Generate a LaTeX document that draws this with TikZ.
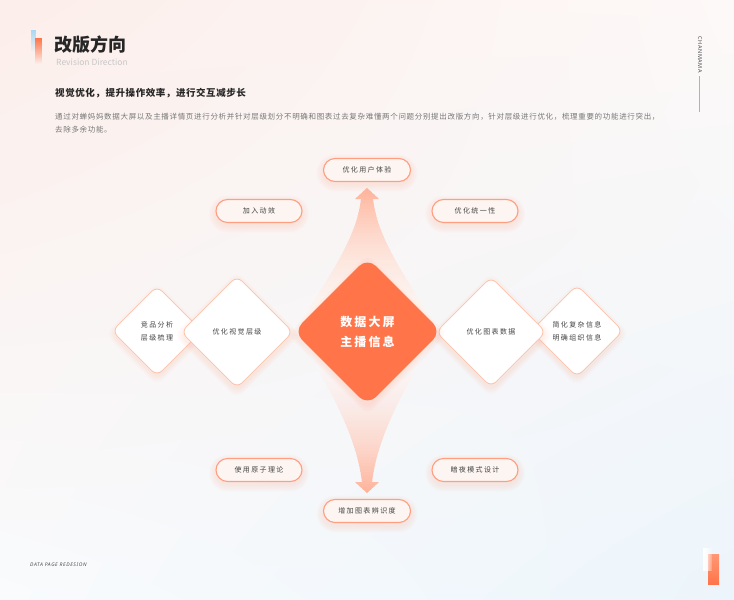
\documentclass[tikz,border=0pt]{standalone}
\usepackage{fontspec}
\setmainfont{Noto Sans CJK SC}
\newfontfamily\cjksp[LetterSpace=20]{Noto Sans CJK SC}
\newfontfamily\cjkpara[LetterSpace=9]{Noto Sans CJK SC}
\newfontfamily\cjksub[LetterSpace=6]{Noto Sans CJK SC}
\newfontfamily\cjkbig[LetterSpace=18]{Noto Sans CJK SC}
\newfontfamily\latsans{Noto Sans}
\newfontfamily\latsp[LetterSpace=12]{Noto Sans}
\usetikzlibrary{shapes.geometric,fadings,shadings,calc}

\definecolor{mainor}{HTML}{FF7549}
\definecolor{pillbd}{HTML}{FF9E80}
\definecolor{pillfill}{HTML}{FCF5F2}
\definecolor{dmbd}{HTML}{FCC2AC}
\definecolor{txtc}{HTML}{444444}
\definecolor{parac}{HTML}{777777}
\definecolor{arrowtop}{HTML}{FFB39A}
\definecolor{bgu}{HTML}{FCF5F2}
\definecolor{bgd}{HTML}{F9F9FB}
\definecolor{pglowc}{HTML}{FFB89E}
\definecolor{dglowc}{HTML}{FFB49A}
\definecolor{cglowc}{HTML}{FF8A60}
\definecolor{bluebar}{HTML}{A9D8F5}
\definecolor{bgTL}{HTML}{FCEEEA}
\definecolor{bgTR}{HTML}{FDF9F8}
\definecolor{bgBL}{HTML}{F9FBFD}
\definecolor{bgBR}{HTML}{ECF5FB}

\tikzfading[name=fadedown, top color=transparent!0, bottom color=transparent!100]
\tikzfading[name=faderight, left color=transparent!0, right color=transparent!85]

\tikzset{
  pillst/.style={draw=pillbd, line width=1.1pt, fill=pillfill, rounded corners=11.5pt,
    minimum height=23pt, inner sep=0pt, font=\cjksp\fontsize{7}{9}\selectfont, text=txtc},
  dmst/.style={diamond, aspect=1, draw=dmbd, line width=0.8pt, fill=white, inner sep=0pt,
    rounded corners=7pt, align=center, font=\cjksp\fontsize{7}{13}\selectfont, text=txtc},
  cdmst/.style={diamond, aspect=1, fill=mainor, inner sep=0pt, rounded corners=12pt,
    align=center, font=\cjkbig\bfseries\fontsize{12}{20}\selectfont, text=white},
}

\newcommand\dglow[5]{%
  \foreach \k in {1,...,8}{
    \fill[#4, opacity=#5, rounded corners=9pt] (#1-#3-\k,#2+3) -- (#1,#2-#3-\k+3) -- (#1+#3+\k,#2+3) -- (#1,#2+#3+\k+3) -- cycle;
  }}
\newcommand\pglow[3]{%
  \foreach \k in {1,...,7}{
    \fill[pglowc, opacity=0.035, rounded corners={11.5pt+\k pt}] (#1-#3/2-\k,#2-11.5-\k+3) rectangle (#1+#3/2+\k,#2+11.5+\k+3);
  }}

\begin{document}
\begin{tikzpicture}[x={(1pt,0pt)}, y={(0pt,-1pt)}]
\useasboundingbox (0,0) rectangle (734,600);
\shade[upper left=bgTL, upper right=bgTR, lower left=bgBL, lower right=bgBR] (0,0) rectangle (734,600);

% header decoration
\fill[bluebar, path fading=fadedown] (31,30) rectangle (36,52);
\fill[mainor, path fading=fadedown] (35,38) rectangle (42,64);

\node[anchor=west, inner sep=0pt, font=\bfseries\fontsize{18}{20}\selectfont, text=black!85] (title) at (54,45) {改版方向};
\node[anchor=west, inner sep=0pt, font=\fontsize{8.5}{10}\selectfont, text=black!22] (subtitle) at (56,62) {Revision Direction};
\node[anchor=west, inner sep=0pt, font=\cjksub\bfseries\fontsize{9.5}{11}\selectfont, text=black!85] (headline) at (55,93) {视觉优化，提升操作效率，进行交互减步长};
\node[anchor=north west, inner sep=0pt, align=left, font=\cjkpara\fontsize{7.5}{13}\selectfont, text=parac] (para) at (55,113)
  {通过对蝉妈妈数据大屏以及主播详情页进行分析并针对层级划分不明确和图表过去复杂难懂两个问题分别提出改版方向，针对层级进行优化，梳理重要的功能进行突出，\\去除多余功能。};

% right vertical label
\node[anchor=west, rotate=-90, inner sep=0pt, font=\latsp\bfseries\fontsize{5.5}{6}\selectfont, text=black!70] (brand) at (700,36) {CHANMAMA};
\coordinate (bl1) at (699,76);
\coordinate (bl2) at (699,112);
\draw[black!30, line width=0.4pt] (bl1) -- (bl2);

% footer
\node[anchor=west, inner sep=0pt, font=\latsp\bfseries\itshape\fontsize{5}{6}\selectfont, text=black!70] (footer) at (30,565) {DATA PAGE REDESION};
\shade[top color=mainor!75, bottom color=mainor] (708,554) rectangle (719,584);
\fill[white, path fading=faderight] (703,548) rectangle (712,571);

% fans / arrows (strip gradients inside clip)
\begin{scope}
  \clip (367,188) -- (379,199) -- (373,199) .. controls (378,245) and (416,290) .. (440,335)
    -- (294,335) .. controls (318,290) and (356,245) .. (361,199) -- (355,199) -- cycle;
  \foreach \i in {0,...,48}{
    \pgfmathtruncatemacro\p{100*(1-\i/49)^2.2}
    \fill[arrowtop!\p!bgu] (290,188+3*\i) rectangle (445,191.6+3*\i);
  }
\end{scope}
\begin{scope}
  \clip (367,493) -- (355,482) -- (362,482) .. controls (356,430) and (322,375) .. (292,326)
    -- (442,326) .. controls (412,375) and (378,430) .. (372,482) -- (379,482) -- cycle;
  \foreach \i in {0,...,55}{
    \pgfmathtruncatemacro\p{100*(1-\i/56)^2.2}
    \fill[arrowtop!\p!bgd] (288,493-3*\i) rectangle (446,489.4-3*\i);
  }
\end{scope}

% pills
\pglow{367}{170}{87}
\node[pillst, minimum width=87pt] (p1) at (367,170) {优化用户体验};
\pglow{259}{211}{86}
\node[pillst, minimum width=86pt] (p2) at (259,211) {加入动效};
\pglow{475}{211}{86}
\node[pillst, minimum width=86pt] (p3) at (475,211) {优化统一性};
\pglow{259}{470}{86}
\node[pillst, minimum width=86pt] (p4) at (259,470) {使用原子理论};
\pglow{475}{470}{86}
\node[pillst, minimum width=86pt] (p5) at (475,470) {暗夜模式设计};
\pglow{367}{511}{87}
\node[pillst, minimum width=87pt] (p6) at (367,511) {增加图表辨识度};

% diamonds
\dglow{157}{331}{44}{dglowc}{0.028}
\node[dmst, minimum width=90pt, minimum height=90pt] (d1) at (157,331) {竞品分析\\层级梳理};
\dglow{577}{331}{45}{dglowc}{0.028}
\node[dmst, minimum width=92pt, minimum height=92pt] (d4) at (577,331) {简化复杂信息\\明确组织信息};
\dglow{237}{332}{56}{dglowc}{0.028}
\node[dmst, minimum width=112pt, minimum height=112pt] (d2) at (237,332) {优化视觉层级};
\dglow{491}{332}{55}{dglowc}{0.028}
\node[dmst, minimum width=110pt, minimum height=110pt] (d3) at (491,332) {优化图表数据};

\dglow{367.5}{331.5}{73}{cglowc}{0.014}
\node[cdmst, minimum width=148pt, minimum height=148pt] (center) at (367.5,331.5) {数据大屏\\主播信息};
\end{tikzpicture}
\end{document}
